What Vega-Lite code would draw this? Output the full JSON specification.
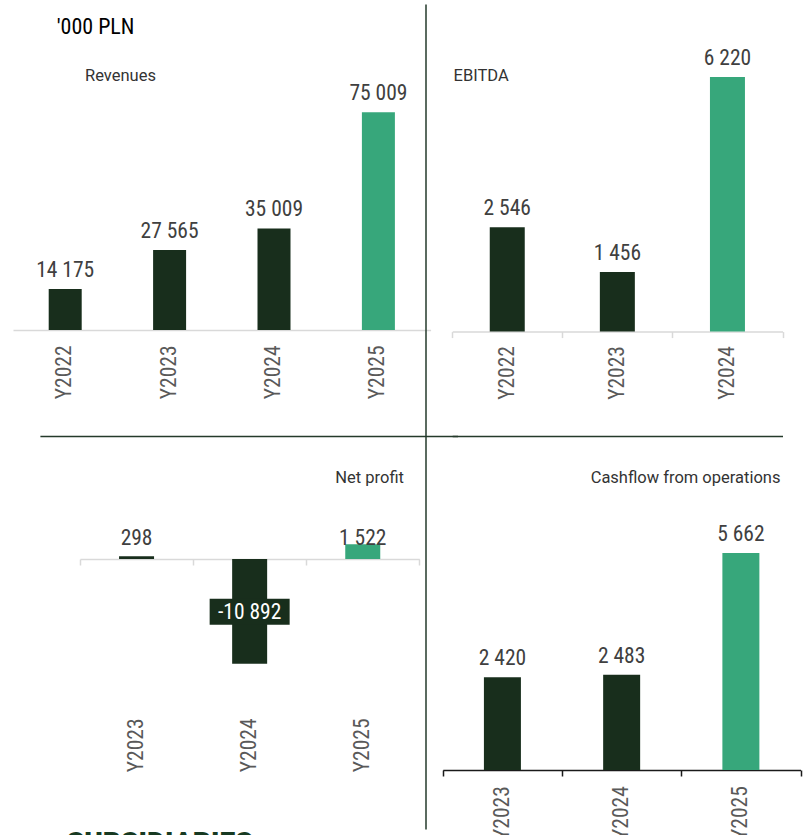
{
  "$schema": "https://vega.github.io/schema/vega-lite/v6.json",
  "padding": {"left": 34, "top": 4, "right": 0, "bottom": 0},
  "background": "white",
  "datasets": {
    "revenues": [
      {"year": "Y2022", "value": 14175},
      {"year": "Y2023", "value": 27565},
      {"year": "Y2024", "value": 35009},
      {"year": "Y2025", "value": 75009}
    ],
    "ebitda": [
      {"year": "Y2022", "value": 2546},
      {"year": "Y2023", "value": 1456},
      {"year": "Y2024", "value": 6220}
    ],
    "netprofit": [
      {"year": "Y2023", "value": 298},
      {"year": "Y2024", "value": -10892},
      {"year": "Y2025", "value": 1522}
    ],
    "cashflow": [
      {"year": "Y2023", "value": 2420},
      {"year": "Y2024", "value": 2483},
      {"year": "Y2025", "value": 5662}
    ]
  },
  "bounds": "flush",
  "spacing": 0,
  "title": {"text": "SUBSIDIARIES", "anchor": "start", "frame": "group", "orient": "bottom", "offset": 0, "dx": 21.7, "dy": -9, "font": "Roboto", "fontSize": 28, "fontWeight": 900, "color": "#173a22"},
  "vconcat": [
    {
      "columns": 2,
      "bounds": "flush",
      "spacing": 0,
      "title": {"text": "'000 PLN", "anchor": "start", "frame": "group", "orient": "top", "offset": 0, "dx": 11.7, "dy": 35, "font": "'Roboto Condensed', 'DejaVu Sans Condensed', Roboto, sans-serif", "fontSize": 22, "fontWeight": "normal", "color": "#000000"},
      "concat": [
        {
          "width": 380.5,
          "height": 432,
          "title": {"text": "Revenues", "anchor": "start", "frame": "group", "offset": 0, "dx": 40, "dy": 80.5, "font": "Roboto", "fontSize": 16.5, "fontWeight": "normal", "color": "#333333"},
          "data": {"name": "revenues"},
          "encoding": {
            "x": {
              "field": "year", "type": "nominal",
              "scale": {"type": "band", "range": [-32, 385.6], "paddingInner": 0, "paddingOuter": 0},
              "axis": {"orient": "bottom", "offset": -106, "domain": true, "domainColor": "#d9d9d9", "domainWidth": 1.5, "ticks": false, "labelAngle": -90, "labelPadding": 15}
            },
            "y": {
              "field": "value", "type": "quantitative",
              "scale": {"domain": [-36500, 112300], "nice": false, "zero": false},
              "axis": {"orient": "right", "labels": false, "ticks": false, "domain": true, "domainColor": "#243a2b", "domainWidth": 1.5, "grid": true, "values": [-36500], "gridColor": "#243a2b", "gridWidth": 1.5, "gridOpacity": 1}
            }
          },
          "layer": [
            {
              "mark": {"type": "bar", "size": 33},
              "encoding": {
                "color": {"condition": {"test": "datum.year === 'Y2025'", "value": "#37a77b"}, "value": "#182e1c"}
              }
            },
            {
              "mark": {"type": "text", "baseline": "alphabetic", "dy": -12, "font": "'Roboto Condensed', 'DejaVu Sans Condensed', Roboto, sans-serif", "fontSize": 21.5, "color": "#404040"},
              "encoding": {"text": {"field": "value", "type": "quantitative", "format": ",d"}}
            }
          ]
        },
        {
          "width": 382.5,
          "height": 432,
          "title": {"text": "EBITDA", "anchor": "start", "frame": "group", "offset": 0, "dx": 27.5, "dy": 80, "font": "Roboto", "fontSize": 16.5, "fontWeight": "normal", "color": "#333333"},
          "data": {"name": "ebitda"},
          "encoding": {
            "x": {
              "field": "year", "type": "nominal",
              "scale": {"type": "band", "range": [26.2, 356.5], "paddingInner": 0, "paddingOuter": 0},
              "axis": {"orient": "bottom", "offset": -104.4, "domain": true, "domainColor": "#d9d9d9", "domainWidth": 1.5, "ticks": true, "tickBand": "extent", "tickSize": 6, "tickColor": "#d9d9d9", "tickWidth": 1.5, "labelAngle": -90, "labelPadding": 8}
            },
            "y": {
              "field": "value", "type": "quantitative",
              "scale": {"domain": [-2550, 8000], "nice": false, "zero": false},
              "axis": {"orient": "left", "labels": false, "ticks": false, "domain": false, "grid": true, "values": [-2550], "gridColor": "#243a2b", "gridWidth": 1.5, "gridOpacity": 1}
            }
          },
          "layer": [
            {
              "mark": {"type": "bar", "size": 35},
              "encoding": {
                "color": {"condition": {"test": "datum.year === 'Y2024'", "value": "#37a77b"}, "value": "#182e1c"}
              }
            },
            {
              "mark": {"type": "text", "baseline": "alphabetic", "dy": -12, "font": "'Roboto Condensed', 'DejaVu Sans Condensed', Roboto, sans-serif", "fontSize": 21.5, "color": "#404040"},
              "encoding": {"text": {"field": "value", "type": "quantitative", "format": ",d"}}
            }
          ]
        },
        {
          "width": 380.5,
          "height": 393,
          "title": {"text": "Net profit", "anchor": "end", "frame": "group", "offset": 0, "dx": -21.5, "dy": 50.8, "font": "Roboto", "fontSize": 16.5, "fontWeight": "normal", "color": "#333333"},
          "data": {"name": "netprofit"},
          "encoding": {
            "x": {
              "field": "year", "type": "nominal",
              "scale": {"type": "band", "range": [35, 374.3], "paddingInner": 0, "paddingOuter": 0},
              "axis": {"orient": "bottom", "offset": -270, "domain": true, "domainColor": "#d9d9d9", "domainWidth": 1.5, "ticks": true, "tickBand": "extent", "tickSize": 6, "tickColor": "#d9d9d9", "tickWidth": 1.5, "labelAngle": -90, "labelPadding": 153}
            },
            "y": {
              "field": "value", "type": "quantitative",
              "scale": {"domain": [-28100, 12800], "nice": false, "zero": false},
              "axis": {"orient": "right", "labels": false, "ticks": false, "domain": true, "domainColor": "#243a2b", "domainWidth": 1.5, "grid": false}
            }
          },
          "layer": [
            {
              "mark": {"type": "bar", "size": 35},
              "encoding": {
                "color": {"condition": {"test": "datum.year === 'Y2025'", "value": "#37a77b"}, "value": "#182e1c"}
              }
            },
            {
              "transform": [{"filter": "datum.value >= 0"}],
              "mark": {"type": "text", "baseline": "alphabetic", "dy": -14, "font": "'Roboto Condensed', 'DejaVu Sans Condensed', Roboto, sans-serif", "fontSize": 21.5, "color": "#404040"},
              "encoding": {
                "y": {"datum": 0, "type": "quantitative"},
                "text": {"field": "value", "type": "quantitative", "format": ",d"}
              }
            },
            {
              "transform": [{"filter": "datum.value < 0"}],
              "mark": {"type": "point", "shape": "M-1,-0.325L1,-0.325L1,0.325L-1,0.325Z", "size": 6400, "filled": true, "opacity": 1, "color": "#182e1c", "strokeWidth": 0, "yOffset": -51.9}
            },
            {
              "transform": [{"filter": "datum.value < 0"}],
              "mark": {"type": "text", "baseline": "middle", "dy": -50.4, "font": "'Roboto Condensed', 'DejaVu Sans Condensed', Roboto, sans-serif", "fontSize": 21.5, "color": "#ffffff"},
              "encoding": {"text": {"field": "value", "type": "quantitative", "format": ",d"}}
            }
          ]
        },
        {
          "width": 382.5,
          "height": 334,
          "title": {"text": "Cashflow from operations", "anchor": "end", "frame": "group", "offset": 0, "dx": -28, "dy": 50.5, "font": "Roboto", "fontSize": 16.5, "fontWeight": "normal", "color": "#333333"},
          "data": {"name": "cashflow"},
          "encoding": {
            "x": {
              "field": "year", "type": "nominal",
              "scale": {"type": "band", "range": [16.8, 374.5], "paddingInner": 0, "paddingOuter": 0},
              "axis": {"orient": "bottom", "domain": true, "domainColor": "#1a1a1a", "domainWidth": 1.5, "ticks": true, "tickBand": "extent", "tickSize": 6, "tickColor": "#1a1a1a", "tickWidth": 1.5, "labelAngle": -90, "labelPadding": 9.7}
            },
            "y": {
              "field": "value", "type": "quantitative",
              "scale": {"domain": [0, 8715], "nice": false, "zero": false},
              "axis": null
            }
          },
          "layer": [
            {
              "mark": {"type": "bar", "size": 37},
              "encoding": {
                "color": {"condition": {"test": "datum.year === 'Y2025'", "value": "#37a77b"}, "value": "#182e1c"}
              }
            },
            {
              "mark": {"type": "text", "baseline": "alphabetic", "dy": -12, "font": "'Roboto Condensed', 'DejaVu Sans Condensed', Roboto, sans-serif", "fontSize": 21.5, "color": "#404040"},
              "encoding": {"text": {"field": "value", "type": "quantitative", "format": ",d"}}
            }
          ]
        }
      ]
    }
  ],
  "config": {
    "view": {"stroke": null},
    "locale": {"number": {"decimal": ",", "thousands": " ", "grouping": [3], "currency": ["", " zł"], "minus": "-"}},
    "axis": {"title": null, "labelFont": "'Roboto Condensed', 'DejaVu Sans Condensed', Roboto, sans-serif", "labelFontSize": 21.5, "labelColor": "#595959", "labelOverlap": false, "grid": false}
  }
}
